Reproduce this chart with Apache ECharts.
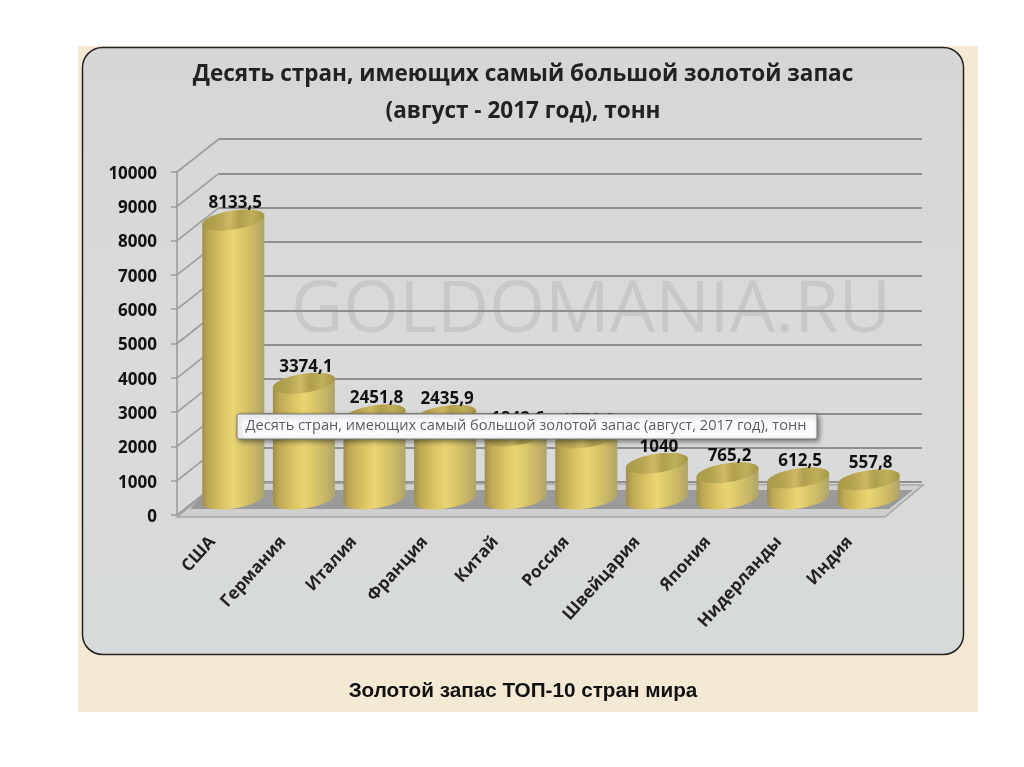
<!DOCTYPE html>
<html><head><meta charset="utf-8">
<style>html,body{margin:0;padding:0;background:#fff}#c{width:1024px;height:767px}</style>
<script src="https://cdn.jsdelivr.net/npm/echarts@6/dist/echarts.min.js"></script>
</head><body><div id="c"></div>
<script>
const countries = ['США','Германия','Италия','Франция','Китай','Россия','Швейцария','Япония','Нидерланды','Индия'];
const reserves = [8133.5,3374.1,2451.8,2435.9,1842.6,1778.9,1040,765.2,612.5,557.8];
const titleText = 'Десять стран, имеющих самый большой золотой запас\n(август - 2017 год), тонн';
const captionText = 'Золотой запас ТОП-10 стран мира';
const tipText = 'Десять стран, имеющих самый большой золотой запас (август, 2017 год), тонн';
const watermark = 'GOLDOMANIA.RU';
const axisMax = 10000, axisStep = 1000;
const ticks = [0,1000,2000,3000,4000,5000,6000,7000,8000,9000,10000];

const DX = 42, DY = -33;           // depth of the 3D box
const BAR_RX = 31, BAR_RY = 9.5, BAR_TILT = 0.14;
const bodyFill = {type:'linear',x:0,y:0,x2:1,y2:0,colorStops:[
 {offset:0,color:'#a08f48'},{offset:.1,color:'#bda854'},{offset:.3,color:'#d8c163'},{offset:.5,color:'#ead573'},
 {offset:.65,color:'#dcc86b'},{offset:.85,color:'#c6b566'},{offset:1,color:'#aca46c'}]};
const topFill = {type:'linear',x:0,y:0,x2:1,y2:0,colorStops:[
 {offset:0,color:'#a89a48'},{offset:.25,color:'#b5a452'},{offset:.45,color:'#cdb965'},{offset:.6,color:'#b09f4e'},
 {offset:.8,color:'#c0af5a'},{offset:1,color:'#a49748'}]};

function ring(cx,cy,from,to){
  const pts=[];
  for(let i=0;i<=40;i++){
    const t=from+(to-from)*i/40;
    pts.push([cx+BAR_RX*Math.cos(t), cy+BAR_RY*Math.sin(t)-BAR_TILT*BAR_RX*Math.cos(t)]);
  }
  return pts;
}
function fmt(v){return String(v).replace('.',',');}

function renderBar(params,api){
  const v=api.value(1), top=api.coord([api.value(0),v]), base=api.coord([api.value(0),0]);
  const cx=top[0];
  const side=ring(cx,top[1],Math.PI,2*Math.PI).concat(ring(cx,base[1],0,Math.PI));
  return {type:'group',children:[
    {type:'polygon',shape:{points:side},style:{fill:bodyFill}},
    {type:'polygon',shape:{points:ring(cx,top[1],0,2*Math.PI)},style:{fill:topFill}},
    {type:'text',style:{text:fmt(v),x:cx+2,y:top[1]-16.5,align:'center',verticalAlign:'middle',
      font:'bold 17px "Open Sans"',fill:'#111'}}
  ]};
}
function renderDepth(params,api){
  const p=api.coord([0,api.value(0)]), x=params.coordSys.x;
  return {type:'line',shape:{x1:x,y1:p[1],x2:x+DX,y2:p[1]+DY},style:{stroke:'#9c9c9c',lineWidth:1.6}};
}
function renderFloor(params,api){
  const a=api.coord([0,0]), x0=params.coordSys.x, x1=x0+params.coordSys.width;
  const y=a[1];
  return {type:'group',children:[
    {type:'polygon',shape:{points:[[x0,y+2],[x1,y+2],[x1+DX-4,y+DY+3],[x0+DX,y+DY+1]]},style:{fill:'#cfcfcf',stroke:'#a8a8a8',lineWidth:1.6}},
    {type:'polygon',shape:{points:[[x0+13,y-6],[x1+4,y-6],[x1+DX-14,y+DY+8],[x0+DX-12,y+DY+8]]},style:{fill:'#9a9a9a'}}
  ]};
}

const chart=echarts.init(document.getElementById('c'),null,{renderer:'canvas'});
chart.setOption({
  animation:false,
  backgroundColor:'#fff',
  graphic:[
    {type:'rect',z:-10,shape:{x:78,y:46,width:900,height:666},style:{fill:'#f5e9d4'}},
    {type:'rect',z:-9,shape:{x:82.5,y:47.5,width:881,height:607,r:20},
      style:{stroke:'#222',lineWidth:1.5,fill:{type:'linear',x:0,y:0,x2:0,y2:1,colorStops:[
        {offset:0,color:'#d6d6d6'},{offset:.5,color:'#dadada'},{offset:1,color:'#d7dada'}]}}},
    {type:'text',z:-8,style:{text:watermark,x:591,y:311,align:'center',verticalAlign:'middle',font:'72px "Open Sans"',fill:'rgba(150,150,150,.26)'}},
    {type:'text',z:20,style:{text:titleText,x:523,y:93,align:'center',verticalAlign:'middle',lineHeight:37,font:'bold 22.5px "Open Sans"',fill:'#222'}},
    {type:'text',z:20,style:{text:captionText,x:523,y:691,align:'center',verticalAlign:'middle',font:'bold 20.7px "Liberation Sans"',fill:'#111'}},
    {type:'rect',z:30,shape:{x:237,y:414,width:580,height:25,r:2},
      style:{fill:'#fbfbfd',stroke:'#777',lineWidth:1,shadowBlur:5,shadowColor:'rgba(0,0,0,.45)',shadowOffsetX:2,shadowOffsetY:2}},
    {type:'text',z:31,style:{text:tipText,x:526,y:426,align:'center',verticalAlign:'middle',font:'14.6px "Open Sans"',fill:'#5a5a66'}}
  ],
  grid:[
    {left:177,top:172,width:708,height:343},
    {left:219,top:139,width:703,height:343},
    {left:198,top:156,width:706,height:343}
  ],
  xAxis:[
    {gridIndex:0,type:'category',data:countries,axisLine:{show:false},axisTick:{show:false},
     axisLabel:{interval:0,rotate:48,margin:24,fontFamily:'Open Sans',fontWeight:'bold',fontSize:17,color:'#222'}},
    {gridIndex:1,type:'category',data:countries,show:false},
    {gridIndex:2,type:'category',data:countries,show:false}
  ],
  yAxis:[
    {gridIndex:0,type:'value',min:0,max:axisMax,interval:axisStep,
     axisLine:{show:true,lineStyle:{color:'#9c9c9c',width:1.6}},axisTick:{show:true,length:6,lineStyle:{color:'#9c9c9c',width:1.5}},
     splitLine:{show:false},axisLabel:{margin:20,verticalAlign:'top',lineHeight:4,formatter:v=>String(v),fontFamily:'Open Sans',fontWeight:'bold',fontSize:17,color:'#111'}},
    {gridIndex:1,type:'value',min:0,max:axisMax,interval:axisStep,axisLabel:{show:false},axisTick:{show:false},
     axisLine:{show:false},splitLine:{show:true,lineStyle:{color:'#8f8f8f',width:1.8}}},
    {gridIndex:2,type:'value',min:0,max:axisMax,interval:axisStep,show:false,splitLine:{show:false}}
  ],
  series:[
    {type:'custom',name:'floor',xAxisIndex:0,yAxisIndex:0,z:1,clip:false,data:[[0,0]],renderItem:renderFloor,silent:true},
    {type:'custom',name:'depth',xAxisIndex:0,yAxisIndex:0,z:2,clip:false,data:ticks.map(t=>[t]),renderItem:renderDepth,silent:true},
    {type:'custom',name:'Золотой запас',xAxisIndex:2,yAxisIndex:2,z:5,clip:false,
     encode:{x:0,y:1},data:reserves.map((v,i)=>[i,v]),renderItem:renderBar}
  ]
});
</script></body></html>
